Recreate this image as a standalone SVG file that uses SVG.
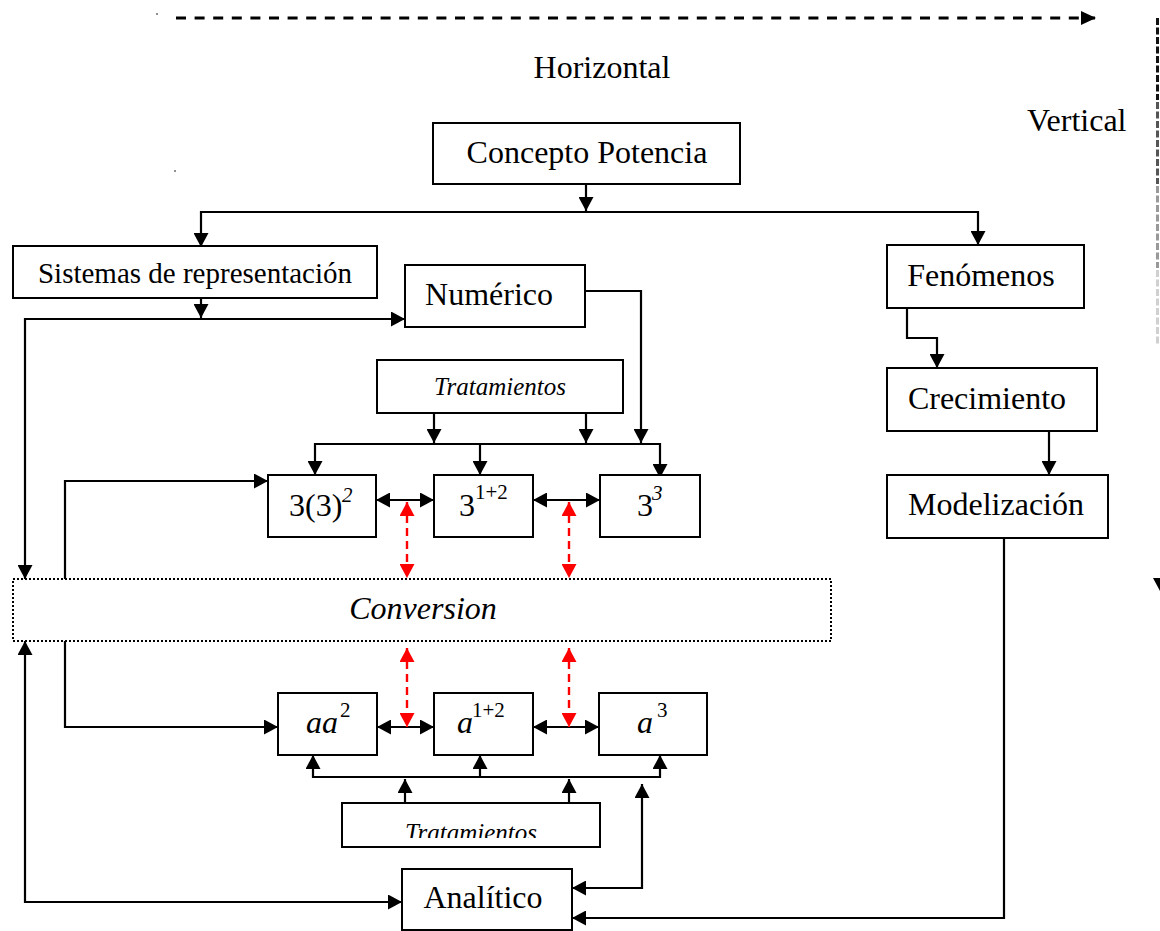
<svg xmlns="http://www.w3.org/2000/svg" width="1160" height="931" viewBox="0 0 1160 931">
  <style>
    .box { fill: #fff; stroke: #000; stroke-width: 2; }
    .dotbox { fill: none; stroke: #000; stroke-width: 2; stroke-dasharray: 2 2; }
    .t { font-family: "Liberation Serif", "Times New Roman", serif; font-size: 32px; fill: #000; }
    .c { text-anchor: middle; }
    .it { font-style: italic; }
    .sup { font-size: 21px; }
    .wire { fill: none; stroke: #000; stroke-width: 2.2; }
    .arr { marker-end: url(#ah); }
    .both { marker-start: url(#ah); marker-end: url(#ah); }
    .red { fill: none; stroke: #f00; stroke-width: 2.4; stroke-dasharray: 8 5; marker-start: url(#rh); marker-end: url(#rh); }
    .vdash { fill: none; stroke-width: 3; stroke-dasharray: 7 2.5; }
  </style>
  <defs>
    <marker id="ah" markerUnits="userSpaceOnUse" markerWidth="14" markerHeight="15" refX="14" refY="7.5" orient="auto-start-reverse">
      <path d="M0,0 L14,7.5 L0,15 Z" fill="#000"/>
    </marker>
    <marker id="rh" markerUnits="userSpaceOnUse" markerWidth="14" markerHeight="15" refX="14" refY="7.5" orient="auto-start-reverse">
      <path d="M0,0 L14,7.5 L0,15 Z" fill="#f00"/>
    </marker>
    <marker id="dh" markerUnits="userSpaceOnUse" markerWidth="15" markerHeight="14" refX="14" refY="7" orient="auto">
      <path d="M0,0 L15,7 L0,14 Z" fill="#000"/>
    </marker>
    <clipPath id="clipTrat">
      <rect x="342" y="803" width="258" height="35"/>
    </clipPath>
  </defs>

  <rect width="1160" height="931" fill="#fff"/>

  <!-- axis guides -->
  <g id="axes">
    <path d="M176,18 H1095" fill="none" stroke="#000" stroke-width="3" stroke-dasharray="10 8.6" marker-end="url(#dh)"/>
    <!-- vertical guide, fading out downwards -->
    <path class="vdash" d="M1157.5,18 V100" stroke="#111"/>
    <path class="vdash" d="M1157.5,102 V184" stroke="#555"/>
    <path class="vdash" d="M1157.5,186 V268" stroke="#999"/>
    <path class="vdash" d="M1157.5,270 V345" stroke="#d0d0d0"/>
    <polygon points="1153,578 1167,578 1160,591" fill="#000"/>
    <circle cx="157" cy="14" r="0.8" fill="#000"/>
    <circle cx="175" cy="171" r="0.8" fill="#000"/>
    <text class="t" x="602" y="78" text-anchor="middle">Horizontal</text>
    <text class="t" x="1027" y="131">Vertical</text>
  </g>

  <!-- connectors -->
  <g id="connectors">
    <path class="wire arr" d="M586,184 V211"/>
    <path class="wire both" d="M201,247 V212 H978 V245"/>
    <path class="wire arr" d="M201,298 V318"/>
    <path class="wire both" d="M405,319 H25 V579"/>
    <path class="wire arr" d="M585,291 H641 V443"/>
    <path class="wire arr" d="M434,413 V443"/>
    <path class="wire arr" d="M586,413 V443"/>
    <path class="wire both" d="M315,475 V444 H660 V478"/>
    <path class="wire arr" d="M480,444 V475"/>
    <path class="wire both" d="M376,500 H434"/>
    <path class="wire both" d="M533,500 H600"/>
    <path class="red" d="M407,502 V578"/>
    <path class="red" d="M569,502 V578"/>
    <path class="wire arr" d="M65,579 V481 H268"/>
    <path class="wire arr" d="M65,641 V727 H278"/>
    <path class="wire both" d="M25,641 V902 H402"/>
    <path class="wire both" d="M377,727 H434"/>
    <path class="wire both" d="M533,727 H599"/>
    <path class="red" d="M407,648 V727"/>
    <path class="red" d="M569,648 V727"/>
    <path class="wire both" d="M313,755 V777 H660 V755"/>
    <path class="wire arr" d="M480,777 V755"/>
    <path class="wire arr" d="M405,803 V779"/>
    <path class="wire arr" d="M569,803 V779"/>
    <path class="wire both" d="M572,888 H642 V784"/>
    <path class="wire arr" d="M907,308 V338 H937 V368"/>
    <path class="wire arr" d="M1049,431 V475"/>
    <path class="wire arr" d="M1004,538 V918 H572"/>
  </g>

  <g id="concepto">
    <rect class="box" x="433" y="123" width="307" height="61"/>
    <text class="t c" x="587" y="163">Concepto Potencia</text>
  </g>
  <g id="sistemas">
    <rect class="box" x="13" y="246" width="364" height="52"/>
    <text class="t c" x="195" y="283" style="font-size:29px">Sistemas de representación</text>
  </g>
  <g id="numerico">
    <rect class="box" x="405" y="265" width="180" height="62"/>
    <text class="t c" x="489" y="305">Numérico</text>
  </g>
  <g id="fenomenos">
    <rect class="box" x="887" y="245" width="197" height="63"/>
    <text class="t c" x="981" y="286">Fenómenos</text>
  </g>
  <g id="crecimiento">
    <rect class="box" x="887" y="368" width="210" height="63"/>
    <text class="t c" x="987" y="409">Crecimiento</text>
  </g>
  <g id="modelizacion">
    <rect class="box" x="887" y="475" width="221" height="63"/>
    <text class="t c" x="996" y="515">Modelización</text>
  </g>
  <g id="tratamientos-num">
    <rect class="box" x="377" y="360" width="246" height="53"/>
    <text class="t c it" x="500" y="395" style="font-size:25px">Tratamientos</text>
  </g>
  <g id="n-prod">
    <rect class="box" x="268" y="475" width="108" height="62"/>
    <text class="t" x="289" y="516">3(3)<tspan class="sup it" x="342" y="502">2</tspan></text>
  </g>
  <g id="n-sum">
    <rect class="box" x="434" y="475" width="99" height="62"/>
    <text class="t" x="459" y="516">3<tspan class="sup" x="475" y="499">1+2</tspan></text>
  </g>
  <g id="n-pow">
    <rect class="box" x="600" y="475" width="100" height="62"/>
    <text class="t" x="637" y="516">3<tspan class="sup it" x="652" y="500">3</tspan></text>
  </g>
  <g id="conversion">
    <rect class="dotbox" x="13" y="579" width="818" height="62"/>
    <text class="t c it" x="423" y="619">Conversion</text>
  </g>
  <g id="a-prod">
    <rect class="box" x="278" y="693" width="99" height="62"/>
    <text class="t it" x="306" y="733">aa<tspan class="sup" font-style="normal" x="340" y="717">2</tspan></text>
  </g>
  <g id="a-sum">
    <rect class="box" x="434" y="693" width="99" height="62"/>
    <text class="t it" x="457" y="733">a<tspan class="sup" font-style="normal" x="472" y="717">1+2</tspan></text>
  </g>
  <g id="a-pow">
    <rect class="box" x="599" y="693" width="108" height="62"/>
    <text class="t it" x="637" y="733">a<tspan class="sup" font-style="normal" x="657" y="717">3</tspan></text>
  </g>
  <g id="tratamientos-alg">
    <rect class="box" x="342" y="803" width="258" height="44"/>
    <text class="t c it" x="471" y="841" style="font-size:25px" clip-path="url(#clipTrat)">Tratamientos</text>
  </g>
  <g id="analitico">
    <rect class="box" x="402" y="869" width="170" height="61"/>
    <text class="t c" x="483" y="908">Analítico</text>
  </g>
</svg>
